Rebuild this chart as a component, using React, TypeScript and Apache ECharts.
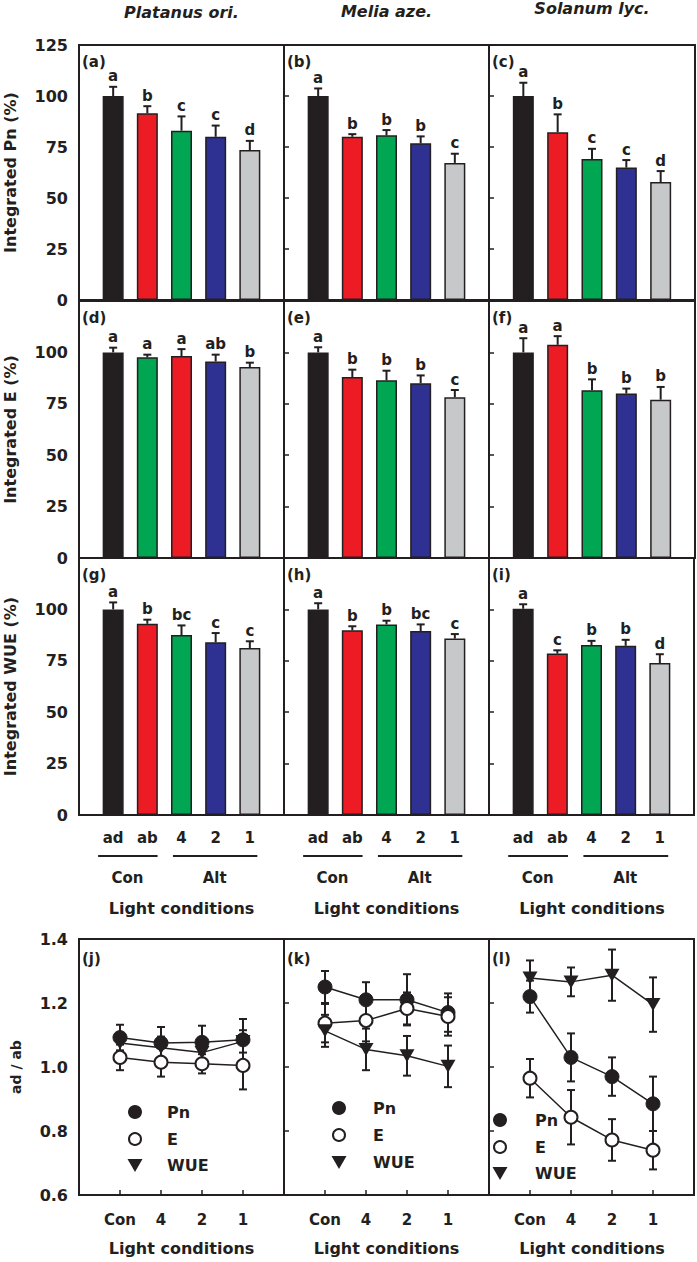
import React, { useEffect, useRef } from 'react';
import * as echarts from 'echarts';

// ---------- data ----------
const species = ['Platanus ori.', 'Melia aze.', 'Solanum lyc.'];
const barLabels = ['ad', 'ab', '4', '2', '1'];
const lineLabels = ['Con', '4', '2', '1'];
const yTitles = ['Integrated Pn (%)', 'Integrated E (%)', 'Integrated WUE (%)'];
const panelTags = [['(a)', '(b)', '(c)'], ['(d)', '(e)', '(f)'], ['(g)', '(h)', '(i)']];
const lineTags = ['(j)', '(k)', '(l)'];
const ratioNames = ['Pn', 'E', 'WUE'];

const pnMean = [[100, 91.5, 83, 80, 73.5], [100, 80, 80.7, 76.8, 67.2], [100, 82.2, 69.1, 64.9, 57.8]];
const pnErr = [[4.5, 3.5, 7, 5.5, 4.5], [3.7, 1.3, 2.6, 3.4, 4.5], [6.5, 8.8, 5, 3.7, 5.4]];
const pnLetters = [['a', 'b', 'c', 'c', 'd'], ['a', 'b', 'b', 'b', 'c'], ['a', 'b', 'c', 'c', 'd']];

const eMean = [[100, 97.6, 98.2, 95.6, 92.9], [100, 88, 86.4, 85, 78.2], [100, 103.7, 81.6, 80, 77]];
const eErr = [[2.3, 1.3, 3.4, 3.3, 2.1], [2.5, 3.6, 4.7, 3.8, 3.5], [6.9, 4.2, 5.3, 2.4, 6.2]];
const eLetters = [['a', 'a', 'a', 'ab', 'b'], ['a', 'b', 'b', 'b', 'c'], ['a', 'a', 'b', 'b', 'b']];

const wueMean = [[100, 93, 87.5, 84, 81.2], [100, 89.8, 92.7, 89.5, 85.8], [100.3, 78.5, 82.7, 82.3, 73.9]];
const wueErr = [[3.4, 2, 4.7, 4.5, 3.3], [3, 2, 1.8, 3.2, 2.2], [2.2, 1.6, 2, 2.9, 4.3]];
const wueLetters = [['a', 'b', 'bc', 'c', 'c'], ['a', 'b', 'b', 'bc', 'c'], ['a', 'c', 'b', 'b', 'd']];

const ratioPn = [[1.092, 1.075, 1.077, 1.085], [1.25, 1.21, 1.21, 1.17], [1.22, 1.03, 0.97, 0.885]];
const ratioPnErr = [[0.04, 0.05, 0.052, 0.065], [0.05, 0.055, 0.08, 0.06], [0.05, 0.075, 0.06, 0.085]];
const ratioE = [[1.03, 1.015, 1.01, 1.005], [1.137, 1.145, 1.183, 1.158], [0.965, 0.843, 0.772, 0.74]];
const ratioEErr = [[0.04, 0.045, 0.03, 0.075], [0.06, 0.065, 0.05, 0.06], [0.06, 0.085, 0.065, 0.06]];
const ratioWue = [[1.075, 1.06, 1.045, 1.08], [1.113, 1.055, 1.035, 1.002], [1.278, 1.266, 1.287, 1.195]];
const ratioWueErr = [[0.03, 0.035, 0.04, 0.035], [0.05, 0.065, 0.062, 0.065], [0.055, 0.045, 0.08, 0.085]];

// ---------- styles / layout ----------
const INK = '#231f20';
const BLACK = '#231f20', RED = '#ed1c24', GREEN = '#00a651', BLUE = '#2e3192', GRAY = '#c7c8ca';
const normalColors = [BLACK, RED, GREEN, BLUE, GRAY];
const swappedColors = [BLACK, GREEN, RED, BLUE, GRAY]; // panel (d)
const FAM = '"DejaVu Sans", sans-serif';
const colX = [79, 284, 489];
const colW = [205, 205, 206];
const rowTop = [45, 301, 558];
const rowH = [255, 257, 257];
const lineTop = 939;
const lineH = 256;

function txt(text: string, x: number, y: number, font: string, align = 'center', rotation = 0) {
  return {
    type: 'text', x, y, rotation, z: 100,
    style: { text, font, fill: INK, align, verticalAlign: 'middle', textAlign: align, textVerticalAlign: 'middle' },
  };
}

function buildOption() {
  const grid: any[] = [];
  const xAxis: any[] = [];
  const yAxis: any[] = [];
  const series: any[] = [];
  const graphic: any[] = [];
  const means = [pnMean, eMean, wueMean];
  const errs = [pnErr, eErr, wueErr];
  const letters = [pnLetters, eLetters, wueLetters];
  const labelStyle = { fontFamily: FAM, fontWeight: 'bold', fontSize: 15, color: INK };

  for (let r = 0; r < 3; r++) {
    for (let c = 0; c < 3; c++) {
      const gi = r * 3 + c;
      grid.push({ left: colX[c], top: rowTop[r], width: colW[c], height: rowH[r], show: true, borderColor: INK, borderWidth: 2 });
      xAxis.push({
        type: 'value', gridIndex: gi, min: 0, max: 6, interval: 1,
        axisLine: { show: false }, axisTick: { show: false }, splitLine: { show: false },
        axisLabel: {
          show: r === 2, margin: 15, ...labelStyle,
          formatter: (v: number) => (v >= 1 && v <= 5 ? barLabels[v - 1] : ''),
        },
      });
      yAxis.push({
        type: 'value', gridIndex: gi, min: 0, max: 125, interval: 25,
        axisLine: { show: false }, splitLine: { show: false },
        axisTick: { show: c > 0, inside: true, length: 5, lineStyle: { color: INK, width: 1.5 } },
        axisLabel: {
          show: c === 0, margin: 11, ...labelStyle, fontSize: 16,
          formatter: (v: number) => (r > 0 && v === 125 ? '' : String(v)),
        },
      });
      const colors = r === 1 && c === 0 ? swappedColors : normalColors;
      const m = means[r][c];
      const e = errs[r][c];
      const L = letters[r][c];
      series.push({
        type: 'bar', xAxisIndex: gi, yAxisIndex: gi, barWidth: 21, z: 2,
        itemStyle: { borderColor: INK, borderWidth: 1.5 },
        data: m.map((v, i) => ({ value: [i + 1, v], itemStyle: { color: colors[i] } })),
      });
      series.push({
        type: 'custom', xAxisIndex: gi, yAxisIndex: gi, z: 3,
        encode: { x: 0, y: 1 },
        data: m.map((v, i) => [i + 1, v, e[i]]),
        renderItem: (params: any, api: any) => {
          const x = api.value(0), mv = api.value(1), ev = api.value(2);
          const b = api.coord([x, mv]);
          const t = api.coord([x, mv + ev]);
          return {
            type: 'group',
            children: [
              { type: 'line', shape: { x1: b[0], y1: b[1], x2: t[0], y2: t[1] }, style: { stroke: INK, lineWidth: 2 } },
              { type: 'line', shape: { x1: t[0] - 4, y1: t[1], x2: t[0] + 4, y2: t[1] }, style: { stroke: INK, lineWidth: 2 } },
              {
                type: 'text', x: t[0], y: t[1] - 3,
                style: { text: L[params.dataIndex], font: `bold 15px ${FAM}`, fill: INK, align: 'center', verticalAlign: 'bottom', textAlign: 'center', textVerticalAlign: 'bottom' },
              },
            ],
          };
        },
      });
      graphic.push(txt(panelTags[r][c], colX[c] + 3, rowTop[r] + 17, `bold 15px ${FAM}`, 'left'));
    }
  }

  // line panels
  const rMeans = [ratioPn, ratioE, ratioWue];
  const rErrs = [ratioPnErr, ratioEErr, ratioWueErr];
  for (let c = 0; c < 3; c++) {
    const gi = 9 + c;
    grid.push({ left: colX[c], top: lineTop, width: colW[c], height: lineH, show: true, borderColor: INK, borderWidth: 2 });
    xAxis.push({
      type: 'value', gridIndex: gi, min: 0, max: 5, interval: 1,
      axisLine: { show: false }, splitLine: { show: false },
      axisTick: { show: true, inside: true, length: 5, lineStyle: { color: INK, width: 1.5 } },
      axisLabel: { show: true, margin: 17, ...labelStyle, formatter: (v: number) => (v >= 1 && v <= 4 ? lineLabels[v - 1] : '') },
    });
    yAxis.push({
      type: 'value', gridIndex: gi, min: 0.6, max: 1.4, interval: 0.2,
      axisLine: { show: false }, splitLine: { show: false },
      axisTick: { show: c > 0, inside: true, length: 5, lineStyle: { color: INK, width: 1.5 } },
      axisLabel: { show: c === 0, margin: 11, ...labelStyle, fontSize: 16, formatter: (v: number) => v.toFixed(1) },
    });
    for (let k = 0; k < 3; k++) {
      const vals = rMeans[k][c];
      const ers = rErrs[k][c];
      series.push({
        type: 'custom', xAxisIndex: gi, yAxisIndex: gi, z: 3,
        encode: { x: 0, y: 1 },
        data: vals.map((v, i) => [i + 1, v, ers[i]]),
        renderItem: (_p: any, api: any) => {
          const x = api.value(0), mv = api.value(1), ev = api.value(2);
          const lo = api.coord([x, mv - ev]);
          const hi = api.coord([x, mv + ev]);
          return {
            type: 'group',
            children: [
              { type: 'line', shape: { x1: lo[0], y1: lo[1], x2: hi[0], y2: hi[1] }, style: { stroke: INK, lineWidth: 2 } },
              { type: 'line', shape: { x1: hi[0] - 4, y1: hi[1], x2: hi[0] + 4, y2: hi[1] }, style: { stroke: INK, lineWidth: 2 } },
              { type: 'line', shape: { x1: lo[0] - 4, y1: lo[1], x2: lo[0] + 4, y2: lo[1] }, style: { stroke: INK, lineWidth: 2 } },
            ],
          };
        },
      });
      const base: any = {
        type: 'line', name: ratioNames[k], xAxisIndex: gi, yAxisIndex: gi, z: 4,
        data: vals.map((v, i) => [i + 1, v]),
        lineStyle: { color: INK, width: 1.5 },
        symbolSize: 14,
      };
      if (k === 0) {
        base.symbol = 'circle';
        base.itemStyle = { color: INK, borderColor: INK, borderWidth: 1 };
      } else if (k === 1) {
        base.symbol = 'circle';
        base.symbolSize = 13;
        base.itemStyle = { color: '#ffffff', borderColor: INK, borderWidth: 2 };
      } else {
        base.symbol = 'triangle';
        base.symbolRotate = 180;
        base.symbolSize = [15, 13];
        base.itemStyle = { color: INK };
      }
      series.push(base);
    }
    graphic.push(txt(lineTags[c], colX[c] + 3, lineTop + 20, `bold 15px ${FAM}`, 'left'));
  }

  // column titles
  const titleY = [12, 11, 8];
  for (let c = 0; c < 3; c++) {
    graphic.push(txt(species[c], colX[c] + colW[c] / 2, titleY[c], `italic bold 16px ${FAM}`));
  }
  // y titles
  for (let r = 0; r < 3; r++) {
    graphic.push(txt(yTitles[r], 10, rowTop[r] + rowH[r] / 2, `bold 16px ${FAM}`, 'center', Math.PI / 2));
  }
  graphic.push(txt('ad / ab', 16, lineTop + lineH / 2, `bold 14px ${FAM}`, 'center', Math.PI / 2));

  // group underlines & x titles for bar columns
  for (let c = 0; c < 3; c++) {
    const ux = (v: number) => colX[c] + (v * colW[c]) / 6;
    graphic.push({ type: 'line', z: 100, shape: { x1: ux(0.56), y1: 856, x2: ux(2.3), y2: 856 }, style: { stroke: INK, lineWidth: 2 } });
    graphic.push({ type: 'line', z: 100, shape: { x1: ux(2.75), y1: 856, x2: ux(5.22), y2: 856 }, style: { stroke: INK, lineWidth: 2 } });
    graphic.push(txt('Con', ux(1.42), 878, `bold 15px ${FAM}`));
    graphic.push(txt('Alt', ux(3.97), 878, `bold 15px ${FAM}`));
    graphic.push(txt('Light conditions', colX[c] + colW[c] / 2, 908, `bold 16px ${FAM}`));
    graphic.push(txt('Light conditions', colX[c] + colW[c] / 2, 1248, `bold 16px ${FAM}`));
  }

  // legends inside line panels
  const legMarkX = [135, 339, 500];
  const legTextX = [167, 373, 535];
  const legY = [[1112, 1139, 1165], [1108, 1135, 1162], [1120, 1147, 1173]];
  for (let c = 0; c < 3; c++) {
    const mx = legMarkX[c];
    const [y0, y1, y2] = legY[c];
    graphic.push({ type: 'circle', z: 100, shape: { cx: mx, cy: y0, r: 7 }, style: { fill: INK } });
    graphic.push({ type: 'circle', z: 100, shape: { cx: mx, cy: y1, r: 6 }, style: { fill: '#fff', stroke: INK, lineWidth: 2 } });
    graphic.push({ type: 'polygon', z: 100, shape: { points: [[mx - 7.5, y2 - 6], [mx + 7.5, y2 - 6], [mx, y2 + 7]] }, style: { fill: INK } });
    graphic.push(txt(ratioNames[0], legTextX[c], y0, `bold 16px ${FAM}`, 'left'));
    graphic.push(txt(ratioNames[1], legTextX[c], y1, `bold 16px ${FAM}`, 'left'));
    graphic.push(txt(ratioNames[2], legTextX[c], y2, `bold 16px ${FAM}`, 'left'));
  }

  return {
    animation: false,
    backgroundColor: '#ffffff',
    grid, xAxis, yAxis, series, graphic,
  };
}

export default function App() {
  const ref = useRef<HTMLDivElement>(null);
  useEffect(() => {
    if (!ref.current) return;
    const chart = echarts.init(ref.current, null, { renderer: 'svg' });
    chart.setOption(buildOption() as any);
    return () => chart.dispose();
  }, []);
  return (
    <div
      ref={ref}
      style={{ position: 'absolute', left: 0, top: 0, width: 697, height: 1262, background: '#fff' }}
    />
  );
}
